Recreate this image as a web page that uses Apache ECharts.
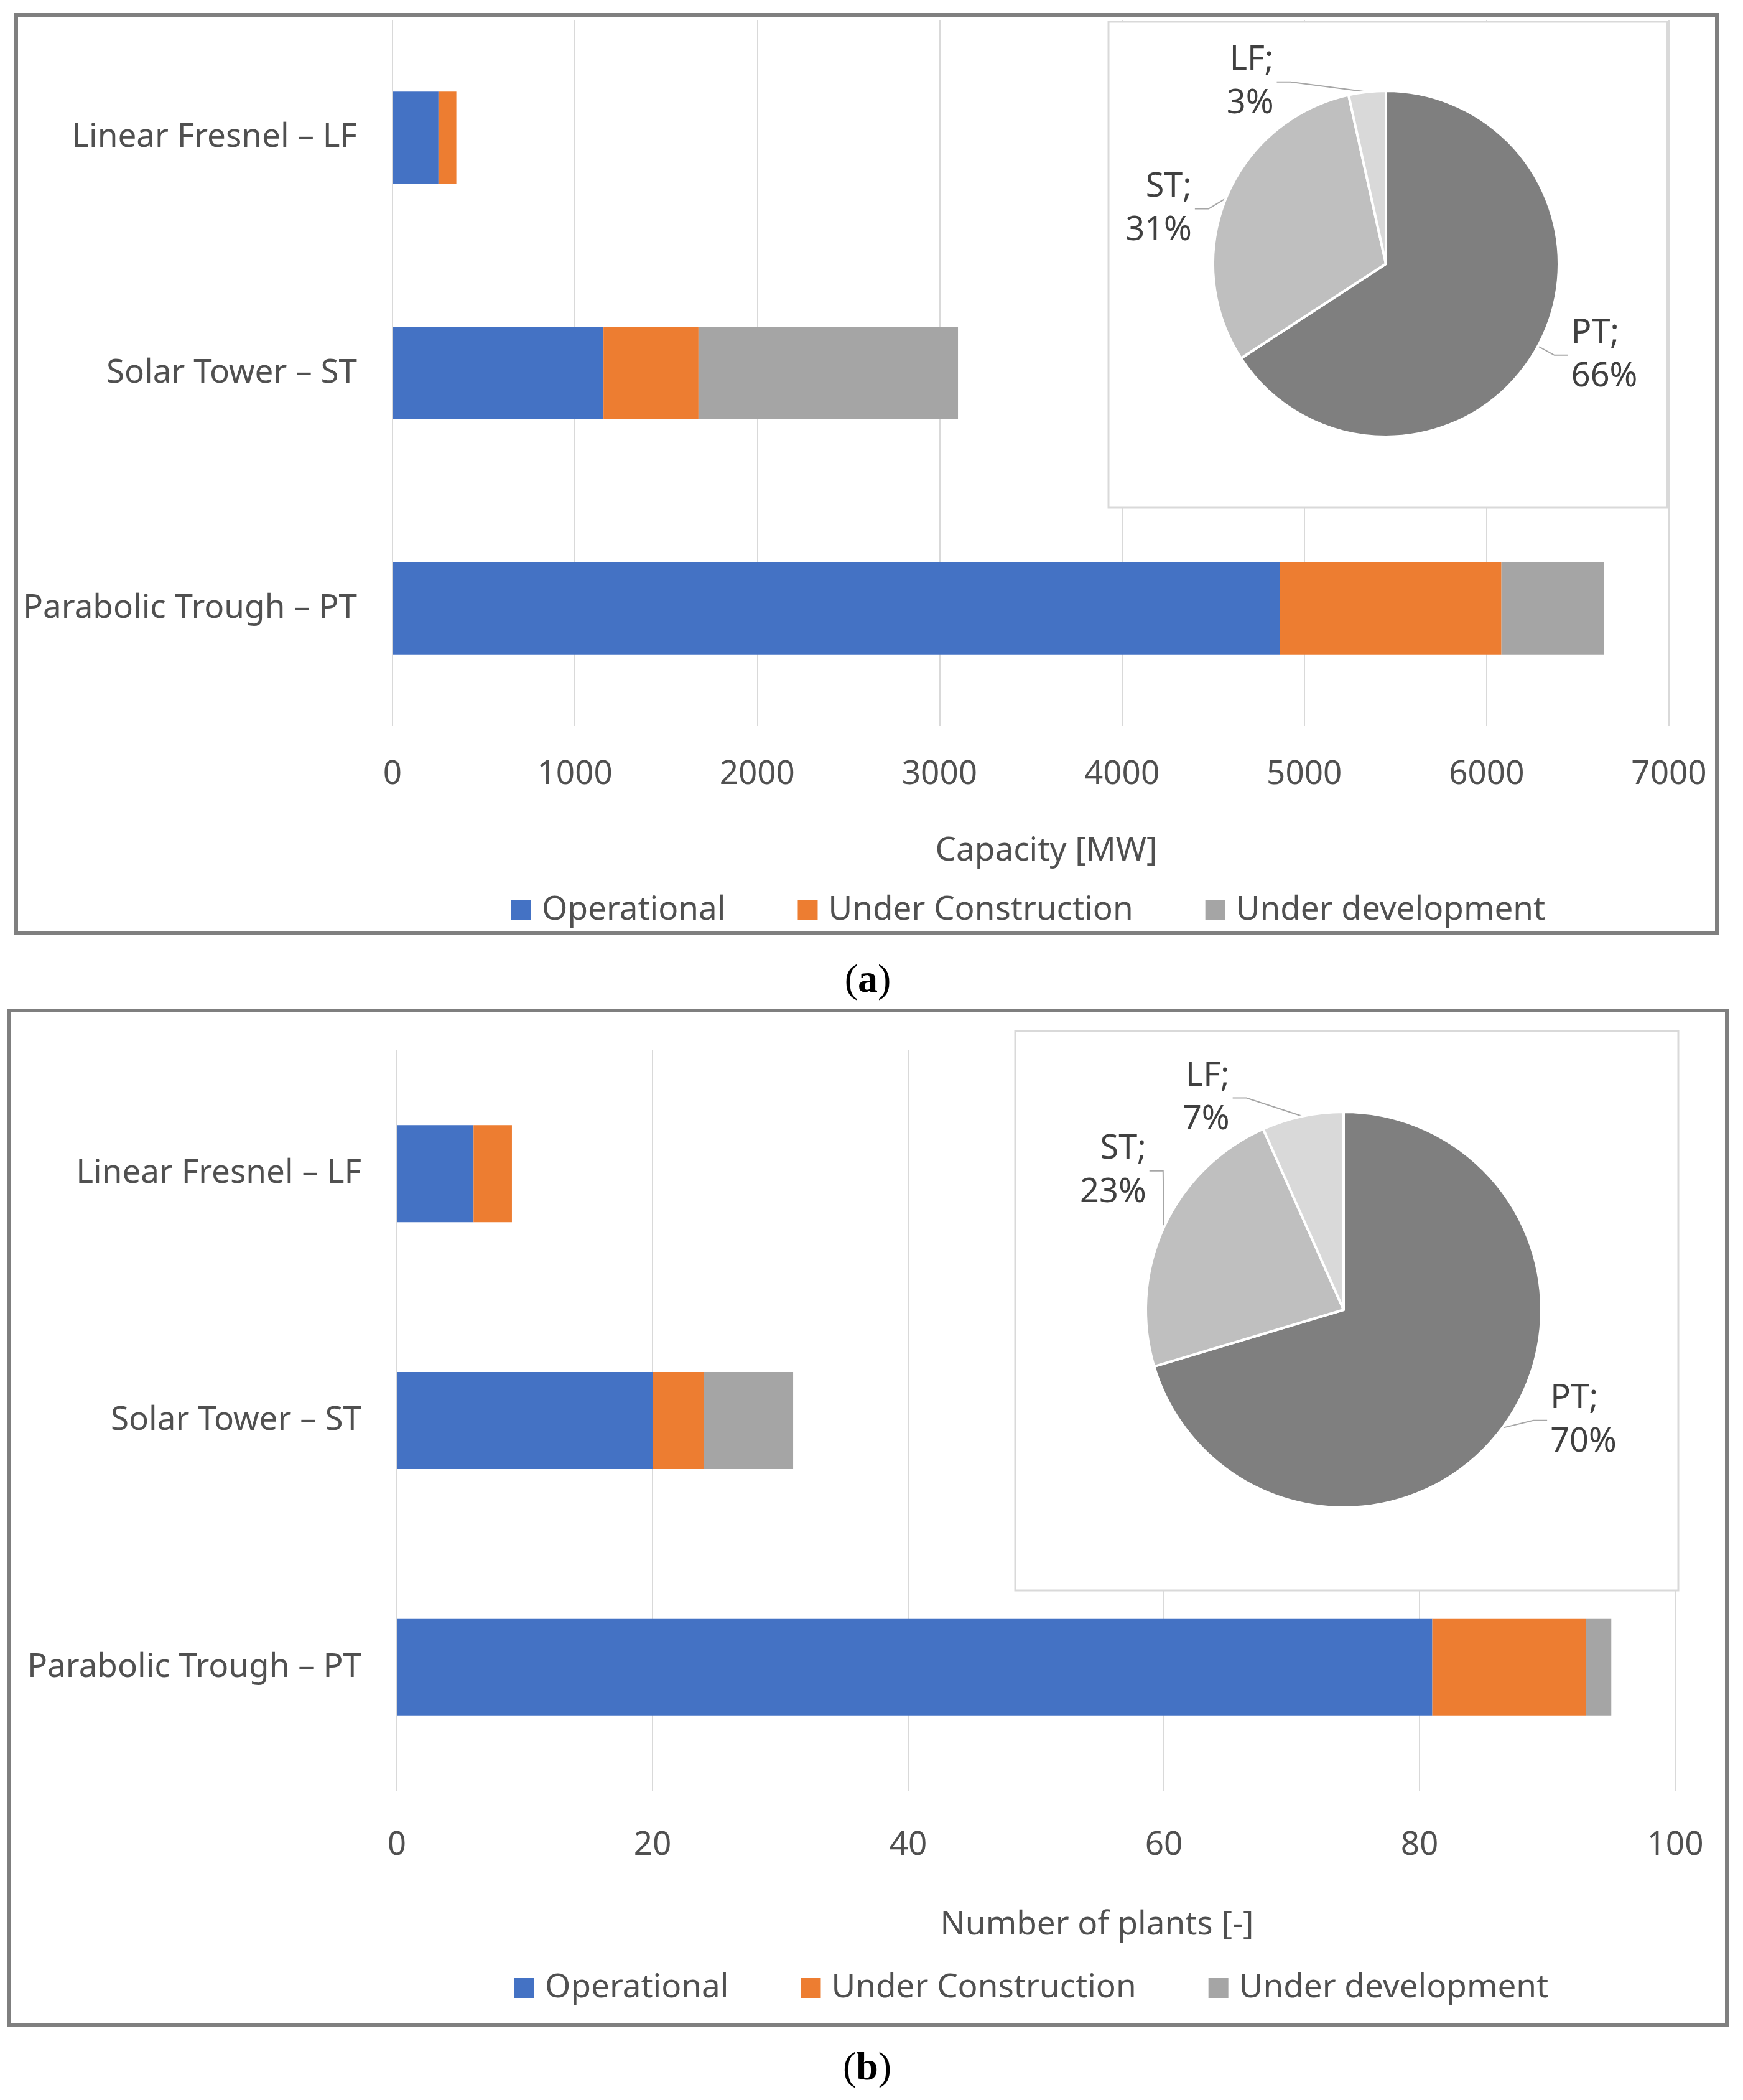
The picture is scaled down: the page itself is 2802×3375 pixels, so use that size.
<!DOCTYPE html>
<html>
<head>
<meta charset="utf-8">
<script src="https://cdn.jsdelivr.net/npm/echarts@6/dist/echarts.min.js"></script>
<style>
  html, body { margin: 0; background: #fff; }
  #chart { width: 2802px; height: 3375px; }
</style>
</head>
<body>
<div id="chart"></div>
<script>
var categories = ['Parabolic Trough – PT', 'Solar Tower – ST', 'Linear Fresnel – LF'];
var shortNames = ['PT', 'ST', 'LF'];
var seriesNames = ['Operational', 'Under Construction', 'Under development'];

// (a) capacity [MW]
var capOperational = [4865, 1157, 252];
var capConstruction = [1216, 521, 98];
var capDevelopment = [562, 1423, 0];
var capAxis = [0, 7000, 1000]; // min, max, step

// (b) number of plants
var numOperational = [81, 20, 6];
var numConstruction = [12, 4, 3];
var numDevelopment = [2, 7, 0];
var numAxis = [0, 100, 20];

var barColors = ['#4472C4', '#ED7D31', '#A5A5A5'];
var pieColors = ['#7F7F7F', '#BFBFBF', '#D9D9D9'];
var font = 'Noto Sans';
var textGrey = '#505050';

var myChart = echarts.init(document.getElementById('chart'));

function barSeries(idx, stack, lists, barWidth) {
    return lists.map(function (vals, i) {
        return {
            name: seriesNames[i],
            type: 'bar',
            stack: stack,
            xAxisIndex: idx,
            yAxisIndex: idx,
            barWidth: barWidth,
            itemStyle: { color: barColors[i] },
            data: vals
        };
    });
}

// nudges keep the labels where Excel's "best fit" put them,
// the leader line follows (first point stays on the slice)
function pieSeries(lists, center, radius, nudges) {
    var data = shortNames.map(function (n, k) {
        var total = 0;
        lists.forEach(function (vals) { total += vals[k]; });
        return { name: n, value: total, itemStyle: { color: pieColors[k] } };
    });
    return {
        type: 'pie',
        z: 10,
        center: center,
        radius: radius,
        startAngle: 90,
        clockwise: true,
        percentPrecision: 0,
        itemStyle: { borderColor: '#fff', borderWidth: 4 },
        label: {
            formatter: '{b};\n{d}%',
            fontFamily: font,
            fontSize: 54,
            lineHeight: 70,
            color: '#404040'
        },
        labelLine: {
            length: 30,
            length2: 22,
            lineStyle: { color: '#A6A6A6', width: 2 }
        },
        labelLayout: function (p) {
            var n = nudges[p.dataIndex];
            var out = { dx: n[0], dy: n[1] };
            var pts = p.labelLinePoints;
            if (pts && pts.length === 3) {
                out.labelLinePoints = [
                    pts[0],
                    [pts[1][0] + n[0], pts[1][1] + n[1]],
                    [pts[2][0] + n[0], pts[2][1] + n[1]]
                ];
            }
            return out;
        },
        data: data
    };
}

function valueAxis(idx, range, name, labelMargin, nameGap, nameShift) {
    return {
        type: 'value',
        gridIndex: idx,
        min: range[0],
        max: range[1],
        interval: range[2],
        name: name,
        nameLocation: 'middle',
        nameGap: nameGap,
        nameTextStyle: {
            fontFamily: font, fontSize: 53, color: textGrey, lineHeight: 60,
            padding: [0, 0, 0, nameShift]
        },
        axisLine: { show: false },
        axisTick: { show: false },
        axisLabel: {
            fontFamily: font, fontSize: 53, color: textGrey, lineHeight: 60, margin: labelMargin,
            formatter: function (v) { return String(v); }
        },
        splitLine: { lineStyle: { color: '#D9D9D9', width: 2 } }
    };
}

function catAxis(idx) {
    return {
        type: 'category',
        gridIndex: idx,
        data: categories,
        axisLine: { show: false },
        axisTick: { show: false },
        axisLabel: { fontFamily: font, fontSize: 53, color: textGrey, margin: 57 }
    };
}

function legend(left, top) {
    return {
        data: seriesNames,
        left: left,
        top: top,
        icon: 'rect',
        itemWidth: 32,
        itemHeight: 32,
        itemGap: 116,
        textStyle: { fontFamily: font, fontSize: 53, color: textGrey, lineHeight: 60, padding: [0, 0, 0, 12] }
    };
}

function caption(letter, x, y) {
    return {
        type: 'text',
        x: x,
        y: y,
        style: {
            text: '{p|(}{b|' + letter + '}{p|)}',
            align: 'center',
            verticalAlign: 'middle',
            rich: {
                p: { fontFamily: 'Liberation Serif', fontSize: 64, fill: '#000' },
                b: { fontFamily: 'Liberation Serif', fontSize: 64, fontWeight: 'bold', fill: '#000' }
            }
        }
    };
}

function frame(x1, y1, x2, y2, color, width, fill, z) {
    return {
        type: 'rect',
        z: z,
        shape: { x: x1, y: y1, width: x2 - x1, height: y2 - y1 },
        style: { fill: fill, stroke: color, lineWidth: width }
    };
}

var option = {
    backgroundColor: '#FFFFFF',
    animation: false,
    grid: [
        { left: 631, top: 32, width: 2052, height: 1135 },
        { left: 638, top: 1688, width: 2055, height: 1190 }
    ],
    xAxis: [
        valueAxis(0, capAxis, 'Capacity [MW]', 48, 171, 50),
        valueAxis(1, numAxis, 'Number of plants [-]', 58, 186, 196)
    ],
    yAxis: [catAxis(0), catAxis(1)],
    legend: [legend(817, 1428), legend(822, 3160)],
    graphic: [
        frame(26, 24, 2760, 1500, '#7F7F7F', 6, 'none', 20),
        frame(14, 1624, 2776, 3254, '#7F7F7F', 6, 'none', 20),
        frame(1782, 35, 2680, 816, '#D9D9D9', 3, '#FFFFFF', 5),
        frame(1632, 1657, 2698, 2556, '#D9D9D9', 3, '#FFFFFF', 5),
        caption('a', 1395, 1577),
        caption('b', 1394, 3325)
    ],
    series: []
        .concat(barSeries(0, 'cap', [capOperational, capConstruction, capDevelopment], 148))
        .concat(barSeries(1, 'num', [numOperational, numConstruction, numDevelopment], 156))
        .concat([
            pieSeries([capOperational, capConstruction, capDevelopment], [2228, 424], 278,
                [[0, 0], [0, 28], [-120, 14]]),
            pieSeries([numOperational, numConstruction, numDevelopment], [2160, 2105], 318,
                [[26, -30], [26, -78], [-84, 0]])
        ])
};

myChart.setOption(option);
</script>
</body>
</html>
